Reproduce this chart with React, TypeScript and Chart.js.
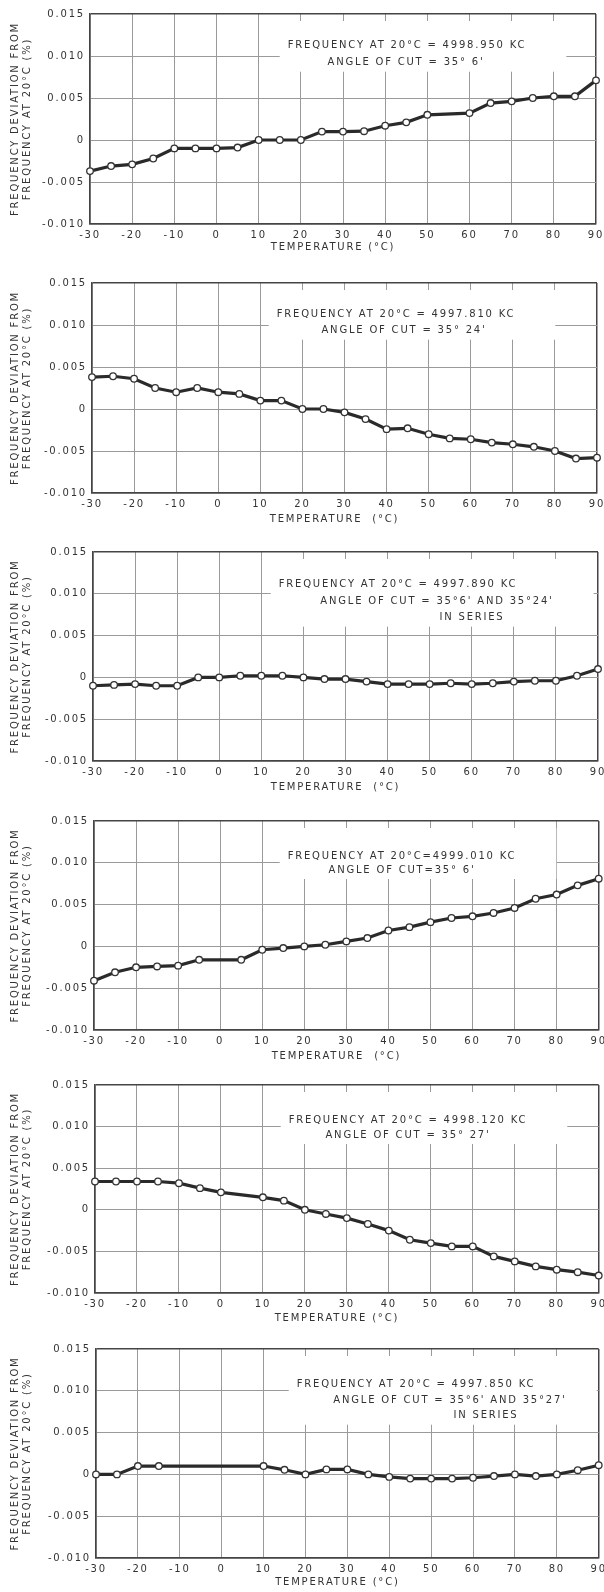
import React, { useEffect, useRef } from 'react';
import { Chart, registerables } from 'chart.js';

Chart.register(...registerables);

// ---------------- data ----------------
const temperatures = [-30, -25, -20, -15, -10, -5, 0, 5, 10, 15, 20, 25, 30, 35, 40, 45, 50, 55, 60, 65, 70, 75, 80, 85, 90];

const xTickLabels = ['-30', '-20', '-10', '0', '10', '20', '30', '40', '50', '60', '70', '80', '90'];
const yTickLabels = ['-0.010', '-0.005', '0', '0.005', '0.010', '0.015'];

const deviation1 = [-0.0037, -0.0031, -0.0029, -0.0022, -0.001, -0.001, -0.001, -0.0009, 0, 0, 0, 0.001, 0.001, 0.00105, 0.0017, 0.0021, 0.003, null, 0.0032, 0.0044, 0.0046, 0.005, 0.0052, 0.0052, 0.0071];
const deviation2 = [0.0038, 0.0039, 0.0036, 0.0025, 0.002, 0.0025, 0.002, 0.0018, 0.001, 0.001, 0, 0, -0.0004, -0.0012, -0.0024, -0.0023, -0.003, -0.0035, -0.0036, -0.004, -0.0042, -0.0045, -0.005, -0.0059, -0.0058];
const deviation3 = [-0.001, -0.0009, -0.0008, -0.001, -0.001, 0, 0, 0.0002, 0.0002, 0.0002, 0, -0.0002, -0.0002, -0.0005, -0.0008, -0.0008, -0.0008, -0.0007, -0.0008, -0.0007, -0.0005, -0.0004, -0.0004, 0.0002, 0.001];
const deviation4 = [-0.0041, -0.0031, -0.0025, -0.0024, -0.0023, -0.0016, null, -0.0016, -0.0004, -0.0002, 0, 0.0002, 0.0006, 0.001, 0.0019, 0.0023, 0.0029, 0.0034, 0.0036, 0.004, 0.0046, 0.0057, 0.0062, 0.0073, 0.0081];
const deviation5 = [0.0034, 0.0034, 0.0034, 0.0034, 0.0032, 0.0026, 0.0021, null, 0.0015, 0.0011, 0, -0.0005, -0.001, -0.0017, -0.0025, -0.0036, -0.004, -0.0044, -0.0044, -0.0056, -0.0062, -0.0068, -0.0072, -0.0075, -0.0079];
const deviation6 = [0, 0, 0.001, 0.001, null, null, null, null, 0.001, 0.00055, 0, 0.0006, 0.0006, 0, -0.0003, -0.0005, -0.0005, -0.0005, -0.0004, -0.0002, 0, -0.0002, 0, 0.0005, 0.0011];

const note1 = ['FREQUENCY AT 20°C = 4998.950 KC', "ANGLE OF CUT = 35° 6'"];
const note2 = ['FREQUENCY AT 20°C = 4997.810 KC', "ANGLE OF CUT = 35° 24'"];
const note3 = ['FREQUENCY AT 20°C = 4997.890 KC', "ANGLE OF CUT = 35°6' AND 35°24'", 'IN SERIES'];
const note4 = ['FREQUENCY AT 20°C=4999.010 KC', "ANGLE OF CUT=35° 6'"];
const note5 = ['FREQUENCY AT 20°C = 4998.120 KC', "ANGLE OF CUT = 35° 27'"];
const note6 = ['FREQUENCY AT 20°C = 4997.850 KC', "ANGLE OF CUT = 35°6' AND 35°27'", 'IN SERIES'];

const yTitle = ['FREQUENCY DEVIATION FROM', 'FREQUENCY AT 20°C (%)'];
const xTitle1 = 'TEMPERATURE (°C)';
const xTitle2 = 'TEMPERATURE  (°C)';

// ---------------- styles / geometry ----------------
const FONT = 'DejaVu Sans';
const TEXT = '#333';
const GRID = '#9a9a9a';
const FRAME = '#444';
const SPACING = '1.8px';
const PAD_T = 14;
const XAXIS_H = 36;
const TITLE_SHIFT = '    '; // trailing spaces shift the centred title slightly left, as in the original

type Geo = { top: number; bottom: number; left: number; right: number; titleOff: number; note: number[][] };

const panels: { data: (number | null)[]; note: string[]; xTitle: string; geo: Geo }[] = [
  { data: deviation1, note: note1, xTitle: xTitle1, geo: { top: 14, bottom: 224, left: 90, right: 596, titleOff: 23, note: [[317, 31.7], [316, 48.7]] } },
  { data: deviation2, note: note2, xTitle: xTitle2, geo: { top: 283, bottom: 493, left: 92, right: 597, titleOff: 26, note: [[304, 31], [312, 47.7]] } },
  { data: deviation3, note: note3, xTitle: xTitle2, geo: { top: 552, bottom: 761, left: 93, right: 598, titleOff: 26, note: [[305, 32.3], [344, 49.3], [379, 65.6]] } },
  { data: deviation4, note: note4, xTitle: xTitle2, geo: { top: 821, bottom: 1030, left: 94, right: 599, titleOff: 26, note: [[308, 35], [308, 49]] } },
  { data: deviation5, note: note5, xTitle: xTitle1, geo: { top: 1085, bottom: 1293, left: 95, right: 599, titleOff: 25, note: [[313, 35], [313, 50]] } },
  { data: deviation6, note: note6, xTitle: xTitle1, geo: { top: 1349, bottom: 1558, left: 96, right: 600, titleOff: 24, note: [[320, 35.3], [354, 51], [390, 66.7]] } },
];

function Panel({ data, note, xTitle, geo }: { data: (number | null)[]; note: string[]; xTitle: string; geo: Geo }) {
  const ref = useRef<HTMLCanvasElement | null>(null);
  const height = geo.bottom - geo.top + PAD_T + XAXIS_H;

  useEffect(() => {
    if (!ref.current) return;
    const notePlugin = {
      id: 'noteBox',
      beforeDraw(chart: any) {
        chart.ctx.letterSpacing = SPACING;
      },
      beforeDatasetsDraw(chart: any) {
        const { ctx, chartArea } = chart;
        ctx.save();
        ctx.letterSpacing = SPACING;
        ctx.font = `10px "${FONT}"`;
        let minL = Infinity;
        let maxR = -Infinity;
        note.forEach((t, i) => {
          const w = ctx.measureText(t).width;
          const cx = chartArea.left + geo.note[i][0];
          minL = Math.min(minL, cx - w / 2);
          maxR = Math.max(maxR, cx + w / 2);
        });
        const lastY = chartArea.top + geo.note[note.length - 1][1];
        const rl = minL - 8;
        const rr = Math.min(maxR + 40, chartArea.right - 2);
        ctx.fillStyle = '#ffffff';
        ctx.fillRect(rl, chartArea.top + 7, rr - rl, lastY + 9 - (chartArea.top + 7));
        ctx.fillStyle = TEXT;
        ctx.textAlign = 'center';
        ctx.textBaseline = 'middle';
        note.forEach((t, i) => {
          ctx.fillText(t, chartArea.left + geo.note[i][0], chartArea.top + geo.note[i][1]);
        });
        ctx.restore();
      },
    };

    const isEdgeY = (v: number) => Math.abs(v - 0.015) < 1e-9 || Math.abs(v + 0.01) < 1e-9;
    const isEdgeX = (v: number) => v === 90 || v === -30;

    const chart = new Chart(ref.current, {
      type: 'line',
      data: {
        datasets: [
          {
            data: temperatures.map((t, i) => ({ x: t, y: data[i] })) as any,
            borderColor: '#2a2a2a',
            borderWidth: 3.2,
            pointRadius: 3.3,
            pointBorderWidth: 1.3,
            pointBackgroundColor: '#ffffff',
            pointBorderColor: '#333333',
            tension: 0,
            spanGaps: true,
            clip: false as any,
          },
        ],
      },
      options: {
        responsive: false,
        animation: false,
        layout: { padding: { top: PAD_T, left: 0, right: 604 - geo.right, bottom: 0 } },
        plugins: { legend: { display: false }, tooltip: { enabled: false } },
        scales: {
          x: {
            type: 'linear',
            min: -30,
            max: 90,
            afterFit: (s: any) => {
              s.height = XAXIS_H;
              s.paddingLeft = 0;
              s.paddingRight = 0;
            },
            ticks: {
              stepSize: 10,
              autoSkip: false,
              maxRotation: 0,
              padding: 5.5,
              color: TEXT,
              font: { family: FONT, size: 10 },
              callback: (_v: any, i: number) => xTickLabels[i],
            },
            grid: {
              drawTicks: false,
              color: (c: any) => (c.tick && isEdgeX(c.tick.value) ? FRAME : GRID),
              lineWidth: (c: any) => (c.tick && isEdgeX(c.tick.value) ? 1.5 : 1),
            },
            border: { display: true, color: FRAME, width: 1.5 },
            title: {
              display: true,
              text: xTitle + TITLE_SHIFT,
              color: TEXT,
              font: { family: FONT, size: 10 },
              padding: { top: 0, bottom: 30 - geo.titleOff },
            },
          },
          y: {
            type: 'linear',
            min: -0.01,
            max: 0.015,
            afterFit: (s: any) => {
              s.width = geo.left;
              s.paddingTop = 0;
              s.paddingBottom = 0;
            },
            ticks: {
              stepSize: 0.005,
              padding: 5,
              color: TEXT,
              font: { family: FONT, size: 10 },
              callback: (_v: any, i: number) => yTickLabels[i],
            },
            grid: {
              drawTicks: false,
              color: (c: any) => (c.tick && isEdgeY(c.tick.value) ? FRAME : GRID),
              lineWidth: (c: any) => (c.tick && isEdgeY(c.tick.value) ? 1.5 : 1),
            },
            border: { display: true, color: FRAME, width: 1.5 },
            title: {
              display: true,
              text: yTitle,
              color: TEXT,
              font: { family: FONT, size: 10, lineHeight: 1.15 },
              padding: { top: 9.75, bottom: 0 },
            },
          },
        },
      } as any,
      plugins: [notePlugin],
    });
    return () => chart.destroy();
  }, []);

  return (
    <canvas
      ref={ref}
      width={604}
      height={height}
      style={{ position: 'absolute', left: 0, top: geo.top - PAD_T, width: 604, height }}
    />
  );
}

export default function App() {
  return (
    <div style={{ position: 'absolute', left: 0, top: 0, width: 604, height: 1592, overflow: 'hidden', background: '#fff' }}>
      {panels.map((p, i) => (
        <Panel key={i} data={p.data} note={p.note} xTitle={p.xTitle} geo={p.geo} />
      ))}
    </div>
  );
}
